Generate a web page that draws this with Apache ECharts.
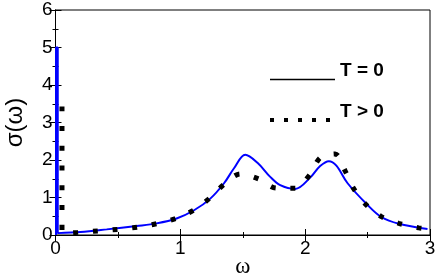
<!DOCTYPE html>
<html><head><meta charset="utf-8">
<script src="https://cdn.jsdelivr.net/npm/echarts@6/dist/echarts.min.js"></script>
<style>html,body{margin:0;padding:0;background:#fff}#c{width:436px;height:278px}</style>
</head><body><div id="c"></div>
<script>
// T = 0 curve (omega, sigma)
const omegaT0 = [0.004,0.004,0.018,0.018,0.2,0.41,0.65,0.81,0.97,1.11,1.24,1.35,1.43,1.52,1.62,1.72,1.80,1.92,2.04,2.12,2.19,2.25,2.34,2.5,2.61,2.75,2.98];
const sigmaT0 = [0,5.0,5.0,0.05,0.08,0.15,0.24,0.31,0.44,0.66,0.97,1.38,1.78,2.14,1.92,1.55,1.33,1.23,1.53,1.84,1.97,1.85,1.38,0.80,0.48,0.30,0.16];
// T > 0 curve
const omegaTp = [0.052,0.052,0.18,0.34,0.50,0.66,0.81,0.97,1.11,1.235,1.35,1.48,1.63,1.77,1.92,2.04,2.12,2.24,2.32,2.39,2.49,2.61,2.75,2.91,3.0];
const sigmaTp = [3.43,0.05,0.07,0.11,0.15,0.21,0.30,0.45,0.67,0.98,1.35,1.63,1.49,1.25,1.25,1.62,2.06,2.16,1.71,1.23,0.80,0.49,0.31,0.19,0.16];
const xTicks = [0,1,2,3];
const yTicks = [0,1,2,3,4,5,6];
const seriesNames = ['T = 0','T > 0'];

const zip = (a,b)=>a.map((v,i)=>[v,b[i]]);
const font = 'Liberation Sans, Arial, sans-serif';
const chart = echarts.init(document.getElementById('c'), null, {renderer:'canvas'});
const tickStyle = {inside:true,length:6,lineStyle:{color:'#000',width:1}};
const minorStyle = {show:true,splitNumber:2,length:3,lineStyle:{color:'#000',width:1}};
const hidden = {color:'rgba(0,0,0,0)',borderWidth:0,opacity:0};
chart.setOption({
  animation:false,
  grid:{left:55.5,right:6,top:10,bottom:43,show:true,borderColor:'#000',borderWidth:1,backgroundColor:'transparent',outerBoundsMode:'none',containLabel:false},
  legend:{
    show:true,orient:'vertical',left:263,top:56.5,itemWidth:65,itemHeight:14,itemGap:17,
    formatter:'{a|{name}}',
    textStyle:{color:'#000',rich:{a:{fontFamily:font,fontSize:19,fontWeight:'bold',color:'#000',padding:[0,0,17,0]}}},
    data:[
      {name:seriesNames[0],itemStyle:hidden,lineStyle:{color:'#000',width:1.5}},
      {name:seriesNames[1],itemStyle:hidden,lineStyle:{color:'#000',width:4,type:[4,10]}}
    ]
  },
  xAxis:[{
    type:'value',min:xTicks[0],max:xTicks[xTicks.length-1],interval:1,
    name:'ω',nameLocation:'middle',nameGap:20,nameMoveOverlap:false,
    nameTextStyle:{fontFamily:'Liberation Serif, serif',fontSize:23,color:'#000'},
    axisLine:{show:true,lineStyle:{color:'#000',width:1}},
    axisTick:tickStyle,minorTick:minorStyle,splitLine:{show:false},
    axisLabel:{fontFamily:font,fontSize:19,color:'#000',margin:4}
  },{
    type:'value',position:'top',min:0,max:3,interval:1,
    axisLine:{show:true,lineStyle:{color:'#000'}},
    axisTick:tickStyle,minorTick:minorStyle,axisLabel:{show:false},splitLine:{show:false}
  }],
  yAxis:[{
    type:'value',min:yTicks[0],max:yTicks[yTicks.length-1],interval:1,
    name:'σ(ω)',nameLocation:'middle',nameGap:28,nameRotate:90,
    nameTextStyle:{fontFamily:font,fontSize:24,color:'#000'},
    axisLine:{show:true,lineStyle:{color:'#000',width:1}},
    axisTick:tickStyle,minorTick:minorStyle,splitLine:{show:false},
    axisLabel:{fontFamily:font,fontSize:19,color:'#000',margin:3}
  },{
    type:'value',position:'right',min:0,max:6,interval:1,
    axisLine:{show:true,lineStyle:{color:'#000'}},
    axisTick:tickStyle,minorTick:minorStyle,axisLabel:{show:false},splitLine:{show:false}
  }],
  series:[
    {name:seriesNames[0],type:'line',data:zip(omegaT0,sigmaT0),symbol:'none',smooth:0.35,
     lineStyle:{color:'#0000ff',width:2},itemStyle:{color:'#0000ff'},z:2},
    {name:seriesNames[1],type:'line',data:zip(omegaTp,sigmaTp),symbol:'none',smooth:0.3,
     lineStyle:{color:'#000',width:5,type:[5,14.7],cap:'butt'},itemStyle:{color:'#000'},z:3}
  ]
});
</script></body></html>
